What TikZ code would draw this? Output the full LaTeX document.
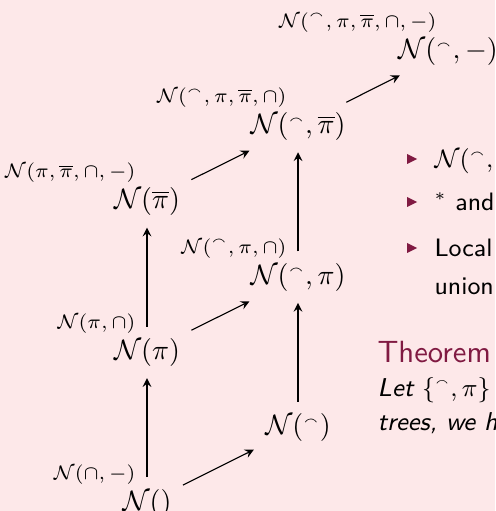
\documentclass[tikz,border=0pt]{standalone}
\usepackage{fontspec}
\usepackage{amsmath}
\usepackage{amssymb}
\usetikzlibrary{arrows,positioning,calc}

\definecolor{slidebg}{RGB}{253,232,233}
\definecolor{maroon}{RGB}{128,26,66}
\newcommand{\smarc}{{}^{\scriptscriptstyle\smallfrown}}
\newcommand{\pibar}{\overline{\pi}}

\begin{document}
\begin{tikzpicture}[
    x=0.357pt, y=-0.357pt,
    vtx/.style={inner sep=3pt, anchor=base, font=\fontsize{10}{12}\selectfont},
    lab/.style={inner sep=0pt, anchor=base east, font=\fontsize{7}{8}\selectfont},
    edge/.style={-stealth, shorten >=1pt, shorten <=1pt},
    itemtext/.style={anchor=base west, inner sep=0pt, font=\sffamily\fontsize{9}{11}\selectfont},
    thmtitle/.style={anchor=base west, inner sep=0pt, text=maroon, font=\sffamily\fontsize{10.95}{13}\selectfont},
    thmbody/.style={anchor=base west, inner sep=0pt, font=\sffamily\itshape\fontsize{9.2}{12}\selectfont},
]
\clip (0,0) rectangle (495,511);
\fill[slidebg] (0,0) rectangle (495,511);

% lattice of nodes
\node[vtx] (n0) at (147, 510.0) {$\mathcal{N}()$};
\node[vtx] (n1) at (298, 434.7) {$\mathcal{N}(\smarc)$};
\node[vtx] (n2) at (147, 359.4) {$\mathcal{N}(\pi)$};
\node[vtx] (n3) at (298, 284.1) {$\mathcal{N}(\smarc, \pi)$};
\node[vtx] (n4) at (147, 208.8) {$\mathcal{N}(\pibar)$};
\node[vtx] (n5) at (298, 133.5) {$\mathcal{N}(\smarc, \pibar)$};
\node[vtx] (n6) at (448, 58.2) {$\mathcal{N}(\smarc, -)$};

% closures
\node[lab] (l0) at ($(n0.base)+(-11,-31)$) {$\mathcal{N}(\cap, -)$};
\node[lab] (l2) at ($(n2.base)+(-11,-31)$) {$\mathcal{N}(\pi, \cap)$};
\node[lab] (l3) at ($(n3.base)+(-11,-31)$) {$\mathcal{N}(\smarc, \pi, \cap)$};
\node[lab] (l4) at ($(n4.base)+(-11,-31)$) {$\mathcal{N}(\pi, \pibar, \cap, -)$};
\node[lab] (l5) at ($(n5.base)+(-11,-31)$) {$\mathcal{N}(\smarc, \pi, \pibar, \cap)$};
\node[lab] (l6) at ($(n6.base)+(-11,-31)$) {$\mathcal{N}(\smarc, \pi, \pibar, \cap, -)$};

\draw[edge] (n0) -- (n1);
\draw[edge] (n0) -- (n2);
\draw[edge] (n1) -- (n3);
\draw[edge] (n2) -- (n3);
\draw[edge] (n2) -- (n4);
\draw[edge] (n3) -- (n5);
\draw[edge] (n4) -- (n5);
\draw[edge] (n5) -- (n6);

% right column
\foreach \b in {168, 211, 257}
  \fill[maroon] (407, \b-14) -- (417, \b-9) -- (407, \b-4) -- cycle;
\node[itemtext] (i1) at (434, 168) {$\mathcal{N}(\smarc,$};
\node[itemtext] (i2) at (434, 211) {${}^*$ and};
\node[itemtext] (i3) at (434, 257) {Local};
\node[itemtext] (i4) at (434, 294) {union};

\node[thmtitle] (thm) at (377, 362) {Theorem};
\node[thmbody] (thm1) at (377, 396) {Let $\{\smarc, \pi\}$};
\node[thmbody] (thm2) at (377, 430) {trees, we h};

\end{tikzpicture}
\end{document}
